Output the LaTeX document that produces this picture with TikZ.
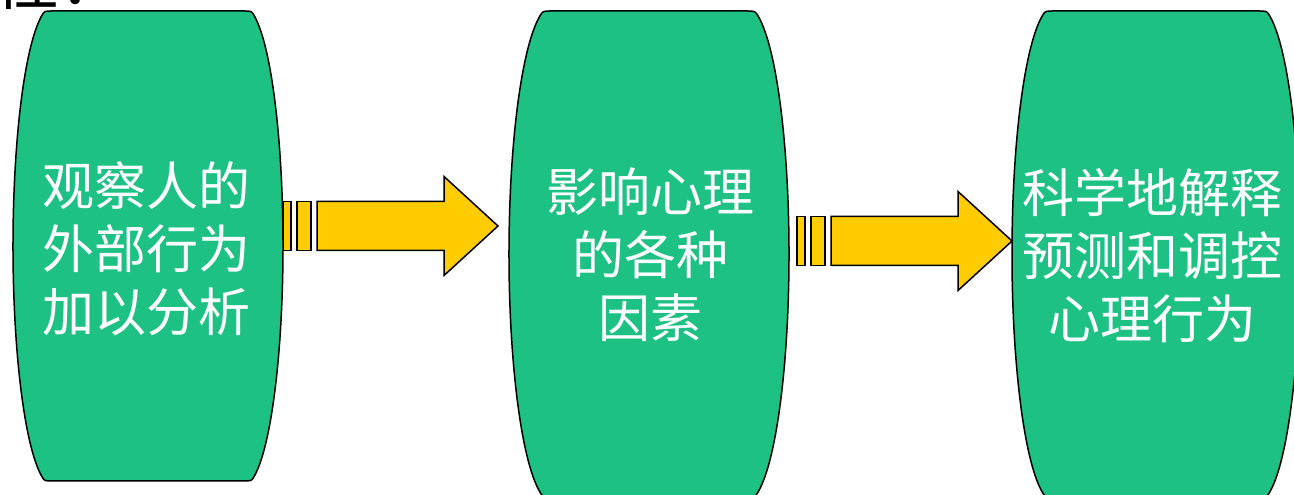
\documentclass[tikz,border=0pt]{standalone}
\usepackage{fontspec}
\newfontfamily\cjk{Noto Sans CJK SC}
\definecolor{barrelgreen}{HTML}{1CC183}
\definecolor{arrowyellow}{HTML}{FFCC00}
\tikzset{
  barrelshape/.style={fill=barrelgreen, draw=black, line width=1.5pt},
  arrowpart/.style={fill=arrowyellow, draw=black, line width=1.5pt, line join=miter},
  barreltext/.style={text=white, align=center, inner sep=0pt, font=\cjk\fontsize{52}{63}\selectfont},
}
% cx cy w a b h
\newcommand{\mybarrel}[6]{%
  \pgfmathsetmacro{\bt}{asin((#6-4.5)/#5)}%
  \pgfmathsetmacro{\bax}{#4*cos(\bt)}%
  \pgfmathsetmacro{\bcx}{\bax - #4*sin(\bt)*4.5/(#5*cos(\bt))}%
  \draw[barrelshape] (#1+#3, #2+#6) .. controls (#1+#3+\bcx, #2+#6) .. (#1+#3+\bax, #2+#6-4.5)
    arc[start angle=\bt, end angle=-\bt, x radius=#4, y radius=#5]
    .. controls (#1+#3+\bcx, #2-#6) .. (#1+#3, #2-#6)
    -- (#1-#3, #2-#6)
    .. controls (#1-#3-\bcx, #2-#6) .. (#1-#3-\bax, #2-#6+4.5)
    arc[start angle=180+\bt, end angle=180-\bt, x radius=#4, y radius=#5]
    .. controls (#1-#3-\bcx, #2+#6) .. (#1-#3, #2+#6) -- cycle;%
}
\newcommand{\mystriped}[2]{%
  \begin{scope}[shift={(#1,#2)}]
    \draw[arrowpart] (0,-24.5) rectangle (8,24.5);
    \draw[arrowpart] (14,-24.5) rectangle (28,24.5);
    \draw[arrowpart] (34,-24.5) -- (161,-24.5) -- (161,-49.5) -- (215,0) -- (161,49.5) -- (161,24.5) -- (34,24.5) -- cycle;
  \end{scope}%
}
\begin{document}
\begin{tikzpicture}[x=1pt,y=1pt]
  \useasboundingbox (0,0) rectangle (1294,495);
  \fill[white] (0,0) rectangle (1294,495);
  % partially visible heading text at the top edge
  \node[anchor=base west, inner sep=0pt, font=\cjk\fontsize{64}{64}\selectfont] (cut) at (-5,490.6) {性：};
  % arrows
  \mystriped{283}{269}
  \mystriped{797}{254}
  % barrels
  \mybarrel{148}{249}{95}{40}{240}{235}
  \mybarrel{649}{241}{97}{43}{248}{243}
  \mybarrel{1156}{241}{102}{42}{248}{243}
  % texts
  \node[barreltext] (t1) at (146,246) {观察人的\\外部行为\\加以分析};
  \node[barreltext] (t2) at (650,240) {影响心理\\的各种\\因素};
  \node[barreltext] (t3) at (1152,239) {科学地解释\\预测和调控\\心理行为};
\end{tikzpicture}
\end{document}
